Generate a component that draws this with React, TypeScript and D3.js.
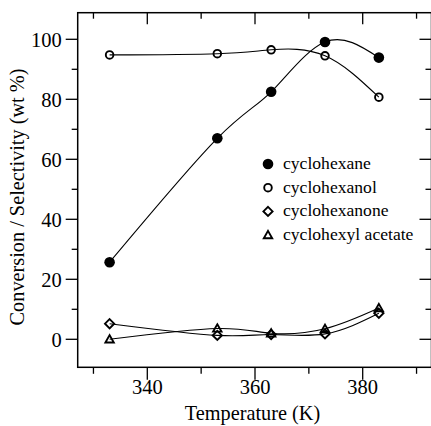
import React from "react";
import * as d3 from "d3";

const temperatures = [333, 353, 363, 373, 383];
const cyclohexane = [25.7, 67.0, 82.5, 99.1, 93.9];
const cyclohexanol = [94.8, 95.2, 96.5, 94.5, 80.7];
const cyclohexanone = [5.2, 1.3, 1.6, 1.8, 8.7];
const cyclohexylAcetate = [0.0, 3.6, 2.0, 3.5, 10.4];

const xMajorTicks = [340, 360, 380];
const xMinorTicks = [330, 350, 370, 390];
const yMajorTicks = [0, 20, 40, 60, 80, 100];
const yMinorTicks = [10, 30, 50, 70, 90];

const seriesNames = ["cyclohexane", "cyclohexanol", "cyclohexanone", "cyclohexyl acetate"];
const seriesValues = [cyclohexane, cyclohexanol, cyclohexanone, cyclohexylAcetate];
const seriesMarkers = ["filledCircle", "openCircle", "diamond", "triangle"];

const W = 431;
const H = 426;
const L = 77.7;
const R = 431.5;
const T = 12.7;
const B = 367.3;
const serif = { fontFamily: "Liberation Serif" };

function Marker({ kind, cx, cy }: { kind: string; cx: number; cy: number }) {
  if (kind === "filledCircle") return <circle cx={cx} cy={cy} r={5.3} fill="#000" />;
  if (kind === "openCircle")
    return <circle cx={cx} cy={cy} r={3.8} fill="none" stroke="#000" strokeWidth={1.9} />;
  if (kind === "diamond") {
    const s = 4.6;
    return (
      <path
        d={`M${cx},${cy - s}L${cx + s},${cy}L${cx},${cy + s}L${cx - s},${cy}Z`}
        fill="none"
        stroke="#000"
        strokeWidth={1.9}
      />
    );
  }
  const s = 4.2;
  return (
    <path
      d={`M${cx},${cy - s}L${cx + s},${cy + s * 0.75}L${cx - s},${cy + s * 0.75}Z`}
      fill="none"
      stroke="#000"
      strokeWidth={1.9}
    />
  );
}

export default function App() {
  const pxPerUnit = (362.7 - 147.3) / 40;
  const x = d3
    .scaleLinear()
    .domain([340 - (147.3 - L) / pxPerUnit, 340 + (R - 147.3) / pxPerUnit])
    .range([L, R]);
  const yPx = 3.0;
  const y = d3
    .scaleLinear()
    .domain([-(B - 339.3) / yPx, (339.3 - T) / yPx])
    .range([B, T]);

  const line = d3
    .line<number>()
    .x((_, i) => x(temperatures[i]))
    .y((d) => y(d))
    .curve(d3.curveNatural);

  const legendX = 268;
  const legendY0 = 164;
  const legendDy = 23.7;

  return (
    <svg width={W} height={H} style={{ position: "absolute", left: 0, top: 0, background: "#fff" }}>
      <rect x={0} y={0} width={W} height={H} fill="#fff" />
      <rect x={L} y={T} width={R - L} height={B - T} fill="none" stroke="#000" strokeWidth={1.5} />

      {yMajorTicks.map((t) => (
        <g key={"ym" + t}>
          <line x1={L - 12} x2={L} y1={y(t)} y2={y(t)} stroke="#000" strokeWidth={1.3} />
          <line x1={R - 12} x2={R} y1={y(t)} y2={y(t)} stroke="#000" strokeWidth={1.3} />
          <text x={L - 16} y={y(t) + 7.5} textAnchor="end" fontSize={20.5} style={serif}>
            {t}
          </text>
        </g>
      ))}
      {yMinorTicks.map((t) => (
        <g key={"yn" + t}>
          <line x1={L - 6} x2={L} y1={y(t)} y2={y(t)} stroke="#000" strokeWidth={1.3} />
          <line x1={R - 6} x2={R} y1={y(t)} y2={y(t)} stroke="#000" strokeWidth={1.3} />
        </g>
      ))}

      {xMajorTicks.map((t) => (
        <g key={"xm" + t}>
          <line x1={x(t)} x2={x(t)} y1={B} y2={B + 12.5} stroke="#000" strokeWidth={1.3} />
          <line x1={x(t)} x2={x(t)} y1={T} y2={T + 11.5} stroke="#000" strokeWidth={1.3} />
          <text x={x(t)} y={393.5} textAnchor="middle" fontSize={20.5} style={serif}>
            {t}
          </text>
        </g>
      ))}
      {xMinorTicks.map((t) => (
        <g key={"xn" + t}>
          <line x1={x(t)} x2={x(t)} y1={B} y2={B + 6.5} stroke="#000" strokeWidth={1.3} />
          <line x1={x(t)} x2={x(t)} y1={T} y2={T + 6} stroke="#000" strokeWidth={1.3} />
        </g>
      ))}

      <text x={252.5} y={420} textAnchor="middle" fontSize={20.3} style={serif}>
        Temperature (K)
      </text>
      <text transform={`translate(24,197) rotate(-90)`} textAnchor="middle" fontSize={20.3} style={serif}>
        Conversion / Selectivity (wt %)
      </text>

      {seriesValues.map((vals, si) => (
        <g key={"s" + si}>
          <path d={line(vals) || ""} fill="none" stroke="#000" strokeWidth={1.1} />
          {vals.map((v, i) => (
            <Marker key={i} kind={seriesMarkers[si]} cx={x(temperatures[i])} cy={y(v)} />
          ))}
        </g>
      ))}

      {seriesNames.map((n, i) => (
        <g key={"l" + i}>
          <Marker kind={seriesMarkers[i]} cx={legendX} cy={legendY0 + i * legendDy} />
          <text x={legendX + 15} y={legendY0 + i * legendDy + 4.8} fontSize={17.6} style={serif}>
            {n}
          </text>
        </g>
      ))}
    </svg>
  );
}
